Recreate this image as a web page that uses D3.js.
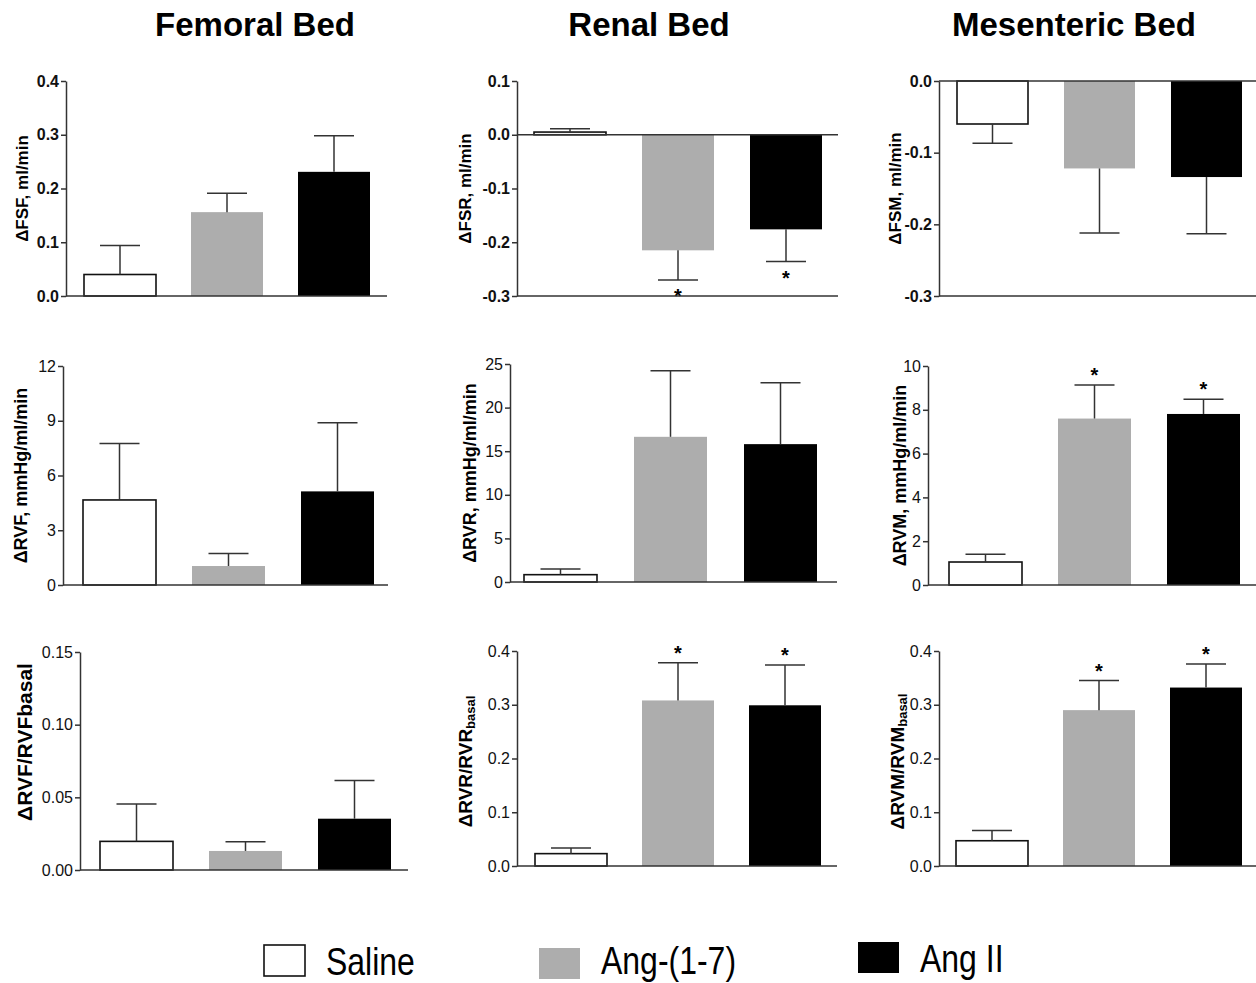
<!DOCTYPE html>
<html>
<head>
<meta charset="utf-8">
<script src="https://cdn.jsdelivr.net/npm/d3@7"></script>
<style>
  body { margin: 0; background: #fff; }
  svg { font-family: "Liberation Sans", Arial, sans-serif; }
</style>
</head>
<body>
<div id="chart"></div>
<script>
// groups and bed titles
var groups = ["Saline", "Ang-(1-7)", "Ang II"];
var bedTitles = ["Femoral Bed", "Renal Bed", "Mesenteric Bed"];

// row 1: flow changes, ml/min
var fsfMean = [0.040, 0.156, 0.231], fsfSem = [0.054, 0.035, 0.067], fsfStars = [0, 0, 0];
var fsrMean = [0.005, -0.215, -0.176], fsrSem = [0.006, 0.055, 0.060], fsrStars = [0, 1, 1];
var fsmMean = [-0.060, -0.122, -0.134], fsmSem = [0.027, 0.090, 0.079], fsmStars = [0, 0, 0];

// row 2: resistance changes, mmHg/ml/min
var rvfMean = [4.66, 1.04, 5.13], rvfSem = [3.10, 0.68, 3.76], rvfStars = [0, 0, 0];
var rvrMean = [0.84, 16.65, 15.81], rvrSem = [0.65, 7.58, 7.05], rvrStars = [0, 0, 0];
var rvmMean = [1.05, 7.60, 7.81], rvmSem = [0.35, 1.53, 0.67], rvmStars = [0, 1, 1];

// row 3: relative resistance changes
var rvfRelMean = [0.0197, 0.0131, 0.0353], rvfRelSem = [0.0257, 0.0064, 0.0262], rvfRelStars = [0, 0, 0];
var rvrRelMean = [0.023, 0.308, 0.299], rvrRelSem = [0.0105, 0.070, 0.075], rvrRelStars = [0, 1, 1];
var rvmRelMean = [0.047, 0.290, 0.332], rvmRelSem = [0.019, 0.055, 0.044], rvmRelStars = [0, 1, 1];

// tick labels
var fsfTicks = [0, 0.1, 0.2, 0.3, 0.4];
var fsrTicks = [-0.3, -0.2, -0.1, 0, 0.1];
var fsmTicks = [-0.3, -0.2, -0.1, 0];
var rvfTicks = [0, 3, 6, 9, 12];
var rvrTicks = [0, 5, 10, 15, 20, 25];
var rvmTicks = [0, 2, 4, 6, 8, 10];
var rvfRelTicks = [0, 0.05, 0.10, 0.15];
var rvrRelTicks = [0, 0.1, 0.2, 0.3, 0.4];
var rvmRelTicks = [0, 0.1, 0.2, 0.3, 0.4];

var fills = ["#ffffff", "#adadad", "#000000"];
var lineColor = "#333";

var panels = [
    {mean: fsfMean, sem: fsfSem, stars: fsfStars, ticks: fsfTicks, fmt: ".1f", bold: true, label: "ΔFSF, ml/min", ls: 17,
        ax: 66, top: 81, bot: 296, right: 387, off: 18, step: 107, bw: 72, lx: 22, ly: 0},
    {mean: fsrMean, sem: fsrSem, stars: fsrStars, ticks: fsrTicks, fmt: ".1f", bold: true, label: "ΔFSR, ml/min", ls: 17,
        ax: 517, top: 81, bot: 296, right: 838, off: 17, step: 108, bw: 72, lx: 465, ly: 0},
    {mean: fsmMean, sem: fsmSem, stars: fsmStars, ticks: fsmTicks, fmt: ".1f", bold: true, label: "ΔFSM, ml/min", ls: 17,
        ax: 939, top: 81, bot: 296, right: 1262, off: 18, step: 107, bw: 71, lx: 895, ly: 0},
    {mean: rvfMean, sem: rvfSem, stars: rvfStars, ticks: rvfTicks, fmt: "d", bold: false, label: "ΔRVF, mmHg/ml/min", ls: 18,
        ax: 63, top: 366, bot: 585, right: 388, off: 20, step: 109, bw: 73, lx: 21, ly: 0},
    {mean: rvrMean, sem: rvrSem, stars: rvrStars, ticks: rvrTicks, fmt: "d", bold: false, label: "ΔRVR, mmHg/ml/min", ls: 18,
        ax: 510, top: 364, bot: 582, right: 837, off: 14, step: 110, bw: 73, lx: 470, ly: 0},
    {mean: rvmMean, sem: rvmSem, stars: rvmStars, ticks: rvmTicks, fmt: "d", bold: false, label: "ΔRVM, mmHg/ml/min", ls: 18,
        ax: 928, top: 366, bot: 585, right: 1262, off: 21, step: 109, bw: 73, lx: 900, ly: 0},
    {mean: rvfRelMean, sem: rvfRelSem, stars: rvfRelStars, ticks: rvfRelTicks, fmt: ".2f", bold: false, label: "ΔRVF/RVFbasal", ls: 21,
        ax: 80, top: 652, bot: 870, right: 408, off: 20, step: 109, bw: 73, lx: 25, ly: -19},
    {mean: rvrRelMean, sem: rvrRelSem, stars: rvrRelStars, ticks: rvrRelTicks, fmt: ".1f", bold: false, label: "ΔRVR/RVR", sub: "basal", ls: 19,
        ax: 517, top: 651, bot: 866, right: 837, off: 18, step: 107, bw: 72, lx: 465, ly: 3},
    {mean: rvmRelMean, sem: rvmRelSem, stars: rvmRelStars, ticks: rvmRelTicks, fmt: ".1f", bold: false, label: "ΔRVM/RVM", sub: "basal", ls: 19,
        ax: 939, top: 651, bot: 866, right: 1262, off: 17, step: 107, bw: 72, lx: 897, ly: 3}
];

var svg = d3.select("#chart").append("svg")
    .attr("width", 1256)
    .attr("height", 983);

// bed titles
var titleX = [255, 649, 1074];
svg.selectAll(".bed").data(bedTitles).enter().append("text")
    .attr("class", "bed")
    .attr("x", function(d, i) { return titleX[i]; })
    .attr("y", 36)
    .attr("text-anchor", "middle")
    .style("font-size", "33px")
    .style("font-weight", "bold")
    .text(function(d) { return d; });

panels.forEach(function(p) {
    var y = d3.scaleLinear()
        .domain(d3.extent(p.ticks))
        .range([p.bot, p.top]);

    var x = d3.scaleBand()
        .domain(groups)
        .range([p.ax + p.off, p.ax + p.off + 2 * p.step + p.bw])
        .paddingInner(1 - p.bw / p.step)
        .paddingOuter(0);

    var g = svg.append("g");
    var rows = groups.map(function(name, i) {
        return {name: name, mean: p.mean[i], sem: p.sem[i], star: p.stars[i], fill: fills[i]};
    });

    // bars
    g.selectAll("rect").data(rows).enter().append("rect")
        .attr("x", function(d) { return x(d.name); })
        .attr("width", x.bandwidth())
        .attr("y", function(d) { return Math.min(y(d.mean), y(0)); })
        .attr("height", function(d) { return Math.abs(y(d.mean) - y(0)); })
        .attr("fill", function(d) { return d.fill; })
        .attr("stroke", function(d) { return d.fill == "#ffffff" ? "#111" : "none"; })
        .attr("stroke-width", 1.6);

    // error bars (one-sided, away from zero)
    var tip = function(d) { return d.mean >= 0 ? d.mean + d.sem : d.mean - d.sem; };
    var cx = function(d) { return x(d.name) + x.bandwidth() / 2; };
    g.selectAll(".err").data(rows).enter().append("line")
        .attr("x1", cx).attr("x2", cx)
        .attr("y1", function(d) { return y(d.mean); })
        .attr("y2", function(d) { return y(tip(d)); })
        .attr("stroke", lineColor).attr("stroke-width", 1.5);
    g.selectAll(".cap").data(rows).enter().append("line")
        .attr("x1", function(d) { return cx(d) - 20; })
        .attr("x2", function(d) { return cx(d) + 20; })
        .attr("y1", function(d) { return y(tip(d)); })
        .attr("y2", function(d) { return y(tip(d)); })
        .attr("stroke", lineColor).attr("stroke-width", 1.5);

    // asterisks
    g.selectAll(".star").data(rows.filter(function(d) { return d.star; })).enter().append("text")
        .attr("x", cx)
        .attr("y", function(d) {
            var t = y(tip(d));
            return d.mean >= 0 ? t - 13 + 10 : t + 13 + 10;
        })
        .attr("text-anchor", "middle")
        .style("font-size", "20px")
        .style("font-weight", "bold")
        .text("*");

    // horizontal lines: bottom of axis and zero line
    var hl = [y.domain()[0]];
    if (y.domain()[0] < 0) hl.push(0);
    g.selectAll(".hl").data(hl).enter().append("line")
        .attr("x1", p.ax).attr("x2", p.right)
        .attr("y1", function(d) { return y(d); })
        .attr("y2", function(d) { return y(d); })
        .attr("stroke", lineColor).attr("stroke-width", 1.5);

    // y axis
    var f = d3.format(p.fmt);
    var axis = g.append("g")
        .attr("transform", "translate(" + p.ax + ",0)")
        .call(d3.axisLeft(y).tickValues(p.ticks).tickSize(5).tickSizeOuter(0)
            .tickFormat(function(d) { return f(d).replace("−", "-"); }));
    axis.select(".domain").attr("stroke", lineColor).attr("stroke-width", 1.5);
    axis.selectAll(".tick line").attr("stroke", lineColor).attr("stroke-width", 1.5);
    axis.selectAll(".tick text")
        .attr("fill", "#111")
        .attr("x", -7)
        .style("font-size", "16px")
        .style("font-weight", p.bold ? "bold" : "normal")
        .style("font-family", "'Liberation Sans', Arial, sans-serif");

    // axis title
    var cy = (p.top + p.bot) / 2 + p.ly;
    var lab = svg.append("text")
        .attr("transform", "translate(" + p.lx + "," + cy + ") rotate(-90)")
        .attr("text-anchor", "middle")
        .attr("dy", "0.35em")
        .style("font-size", p.ls + "px")
        .style("font-weight", "bold")
        .text(p.label);
    if (p.sub) {
        lab.append("tspan")
            .attr("dy", "0.25em")
            .style("font-size", "13px")
            .text(p.sub);
    }
});

// legend
var legX = [264, 539, 858];
var legY = [945, 948, 942];
var leg = svg.selectAll(".leg").data(groups).enter().append("g")
    .attr("transform", function(d, i) { return "translate(" + legX[i] + "," + legY[i] + ")"; });
leg.append("rect")
    .attr("width", 41).attr("height", 31)
    .attr("fill", function(d, i) { return fills[i]; })
    .attr("stroke", function(d, i) { return i == 0 ? "#111" : "none"; })
    .attr("stroke-width", 1.6);
leg.append("text")
    .attr("transform", function(d, i) { return "translate(62," + (i == 1 ? 26 : 30) + ") scale(0.82,1)"; })
    .style("font-size", "39px")
    .text(function(d) { return d; });
</script>
</body>
</html>
